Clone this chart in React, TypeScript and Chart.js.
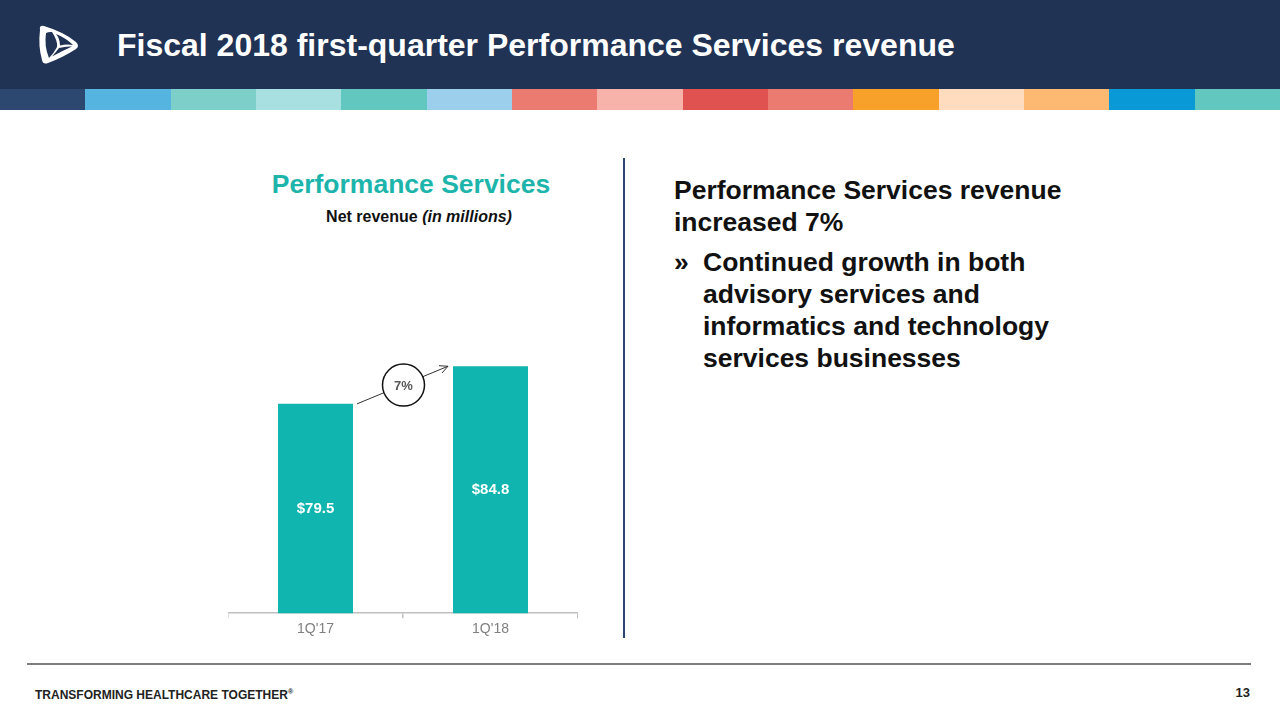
import React, { useEffect, useRef } from "react";
import { Chart, registerables } from "chart.js";

Chart.register(...registerables);

const categories = ["1Q'17", "1Q'18"];
const revenue = [79.5, 84.8];
const revenueLabels = ["$79.5", "$84.8"];
const growthLabel = "7%";
const stripColors = [
  "#2c4770", "#56b4e0", "#7dcfca", "#a8dfe0", "#62c7bf", "#9ccfec", "#eb7b70", "#f7b2aa",
  "#e05250", "#eb7b70", "#f7a12b", "#ffdcbd", "#fdb872", "#0899d6", "#62c7bf",
];

const FONT = "'Liberation Sans', Arial, sans-serif";

const overlayPlugin = {
  id: "overlay",
  afterDatasetsDraw(chart: any) {
    const ctx = chart.ctx;
    const meta = chart.getDatasetMeta(0);
    const bars = meta.data;
    const bottom = chart.chartArea.bottom;
    ctx.save();
    ctx.fillStyle = "#ffffff";
    ctx.font = `bold 15px ${FONT}`;
    ctx.textAlign = "center";
    ctx.textBaseline = "middle";
    bars.forEach((b: any, i: number) => {
      const y = (b.y + bottom) / 2;
      ctx.fillText(revenueLabels[i], b.x, y);
    });
    if (bars.length >= 2) {
      const b0 = bars[0];
      const b1 = bars[1];
      const x0 = b0.x + b0.width / 2 + 4;
      const y0 = b0.y;
      const x1 = b1.x - b1.width / 2 - 5;
      const y1 = b1.y;
      ctx.strokeStyle = "#333333";
      ctx.lineWidth = 1;
      ctx.beginPath();
      ctx.moveTo(x0, y0);
      ctx.lineTo(x1, y1);
      ctx.stroke();
      const ang = Math.atan2(y1 - y0, x1 - x0);
      const ah = 9;
      ctx.beginPath();
      ctx.moveTo(x1 - ah * Math.cos(ang - 0.45), y1 - ah * Math.sin(ang - 0.45));
      ctx.lineTo(x1, y1);
      ctx.lineTo(x1 - ah * Math.cos(ang + 0.45), y1 - ah * Math.sin(ang + 0.45));
      ctx.stroke();
      const cx = (x0 + x1) / 2 + 1;
      const cy = (y0 + y1) / 2;
      ctx.beginPath();
      ctx.arc(cx, cy, 21, 0, Math.PI * 2);
      ctx.fillStyle = "#ffffff";
      ctx.fill();
      ctx.lineWidth = 1.5;
      ctx.strokeStyle = "#111111";
      ctx.stroke();
      ctx.fillStyle = "#595959";
      ctx.font = `bold 13px ${FONT}`;
      ctx.fillText(growthLabel, cx, cy + 1);
    }
    ctx.restore();
  },
};

function RevenueChart() {
  const ref = useRef<HTMLCanvasElement | null>(null);
  useEffect(() => {
    if (!ref.current) return;
    const chart = new Chart(ref.current, {
      type: "bar",
      data: {
        labels: categories,
        datasets: [
          {
            data: revenue,
            backgroundColor: "#0fb5ae",
            borderWidth: 0,
            barPercentage: 75 / 175,
            categoryPercentage: 1,
          },
        ],
      },
      options: {
        animation: false,
        responsive: false,
        layout: { padding: 0 },
        plugins: { legend: { display: false }, tooltip: { enabled: false } },
        scales: {
          x: {
            grid: {
              drawOnChartArea: false,
              drawTicks: true,
              tickLength: 5,
              color: "#bfbfbf",
              lineWidth: 1.5,
            },
            border: { display: true, color: "#bfbfbf", width: 1.5 },
            ticks: {
              color: "#7f7f7f",
              font: { family: FONT, size: 14 },
              padding: 3,
            },
          },
          y: {
            display: false,
            min: 50,
            max: 94.7,
          },
        },
      },
      plugins: [overlayPlugin],
    });
    return () => chart.destroy();
  }, []);
  return (
    <canvas
      ref={ref}
      width={350}
      height={345}
      style={{ position: "absolute", left: 228, top: 296, width: 350, height: 345 }}
    />
  );
}

export default function App() {
  const stripW = 1280 / stripColors.length;
  return (
    <div
      style={{
        position: "absolute",
        left: 0,
        top: 0,
        width: 1280,
        height: 720,
        overflow: "hidden",
        background: "#ffffff",
        fontFamily: FONT,
      }}
    >
      <div style={{ position: "absolute", left: 0, top: 0, width: 1280, height: 89, background: "#203354" }} />
      {stripColors.map((c, i) => (
        <div
          key={i}
          style={{
            position: "absolute",
            left: Math.round(i * stripW),
            top: 89,
            width: Math.round((i + 1) * stripW) - Math.round(i * stripW),
            height: 21,
            background: c,
          }}
        />
      ))}
      <svg style={{ position: "absolute", left: 28, top: 16 }} width={60} height={60} viewBox="0 0 60 60">
        <path
          d="M12 14 Q11 9 16 10 Q36 16 48 26 Q52 30 48 33 Q34 42 20 47 Q15 49 14 44 Q10 30 12 14 Z"
          fill="#ffffff"
        />
        <path d="M18 17 Q21 15.5 24 16 Q30 25 29 31 Q26 37 21 42 Q16 30 18 17 Z" fill="#203354" />
        <path d="M28 18 Q38 22 45 29 Q38 28 32 29.5 Q32 23 28 18 Z" fill="#203354" />
        <path d="M31 32 Q38 30 44 30.5 Q34 35 24 40.5 Q28 36 31 32 Z" fill="#203354" />
      </svg>
      <div
        style={{
          position: "absolute",
          left: 117,
          top: 26,
          color: "#ffffff",
          fontWeight: "bold",
          fontSize: 32,
          lineHeight: "38px",
          whiteSpace: "nowrap",
        }}
      >
        Fiscal 2018 first-quarter Performance Services revenue
      </div>

      <div
        style={{
          position: "absolute",
          left: 211,
          width: 400,
          top: 169,
          textAlign: "center",
          color: "#1db5ab",
          fontWeight: "bold",
          fontSize: 26.5,
          lineHeight: "30px",
        }}
      >
        Performance Services
      </div>
      <div
        style={{
          position: "absolute",
          left: 219,
          width: 400,
          top: 207,
          textAlign: "center",
          color: "#111111",
          fontWeight: "bold",
          fontSize: 16,
          lineHeight: "20px",
        }}
      >
        Net revenue <i>(in millions)</i>
      </div>

      <RevenueChart />

      <div style={{ position: "absolute", left: 623, top: 158, width: 2, height: 480, background: "#2c4770" }} />

      <div
        style={{
          position: "absolute",
          left: 674,
          top: 174,
          color: "#111111",
          fontWeight: "bold",
          fontSize: 26.5,
          lineHeight: "32px",
        }}
      >
        Performance Services revenue
        <br />
        increased 7%
      </div>
      <div
        style={{
          position: "absolute",
          left: 674,
          top: 246,
          color: "#111111",
          fontWeight: "bold",
          fontSize: 26.5,
          lineHeight: "32px",
        }}
      >
        »
      </div>
      <div
        style={{
          position: "absolute",
          left: 703,
          top: 246,
          color: "#111111",
          fontWeight: "bold",
          fontSize: 26.5,
          lineHeight: "32px",
        }}
      >
        Continued growth in both
        <br />
        advisory services and
        <br />
        informatics and technology
        <br />
        services businesses
      </div>

      <div style={{ position: "absolute", left: 27, top: 663, width: 1224, height: 2, background: "#7f7f7f" }} />
      <div
        style={{
          position: "absolute",
          left: 35,
          top: 684,
          color: "#222222",
          fontWeight: "bold",
          fontSize: 12,
          lineHeight: "16px",
          whiteSpace: "nowrap",
        }}
      >
        TRANSFORMING HEALTHCARE TOGETHER<sup style={{ fontSize: 7 }}>®</sup>
      </div>
      <div
        style={{
          position: "absolute",
          left: 1226,
          top: 685,
          width: 24,
          textAlign: "right",
          color: "#222222",
          fontWeight: "bold",
          fontSize: 13,
          lineHeight: "16px",
        }}
      >
        13
      </div>
    </div>
  );
}
